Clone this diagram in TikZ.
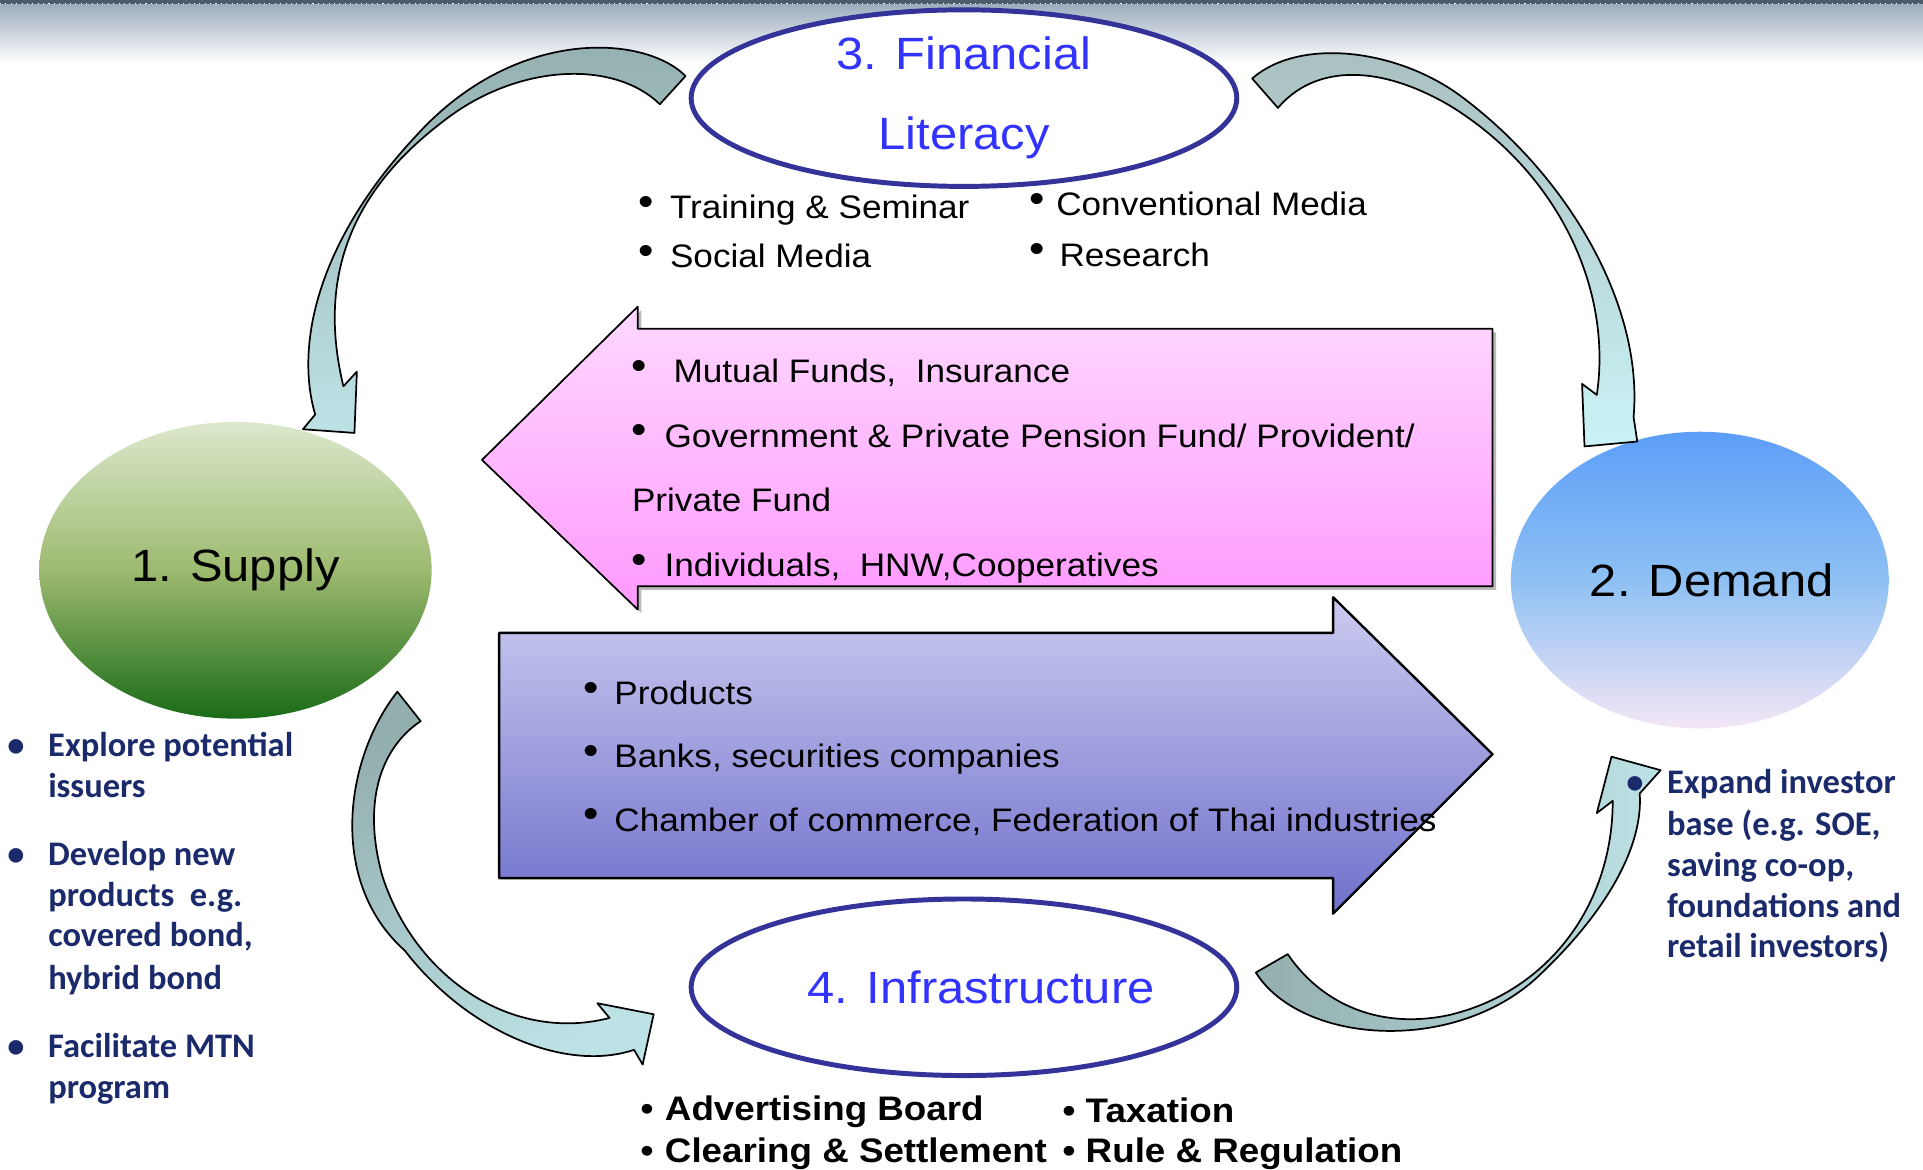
\documentclass[tikz,border=0pt]{standalone}
\usepackage{fontspec}
\usepackage{graphicx}
\setmainfont{Liberation Sans}[FakeStretch=1.08]
\newfontfamily\sidefont{Carlito}
\usetikzlibrary{shapes.geometric}

\definecolor{banddark}{HTML}{4B5B6B}
\definecolor{bandlight}{HTML}{9FAEBF}
\definecolor{titleblue}{HTML}{3333FF}
\definecolor{ringblue}{HTML}{333399}
\definecolor{navy}{HTML}{1B2A6B}
\definecolor{supplytop}{HTML}{DCE8CD}
\definecolor{supplymid}{HTML}{9DBA6F}
\definecolor{supplybot}{HTML}{1A6B17}
\definecolor{demandtop}{HTML}{5C9EF8}
\definecolor{demandmid}{HTML}{8EC0F3}
\definecolor{demandbot}{HTML}{F3E6F5}
\definecolor{pinktop}{HTML}{FFD8FF}
\definecolor{pinkbot}{HTML}{FF99FF}
\definecolor{purptop}{HTML}{CBCBF0}
\definecolor{purpbot}{HTML}{7070CC}
\definecolor{tealdark}{HTML}{93AEAE}
\definecolor{teallight}{HTML}{BDE2E5}
\definecolor{tealpale}{HTML}{CAF3F6}

\newcommand\bul[1]{\makebox[#1][l]{\raisebox{0.1em}{\scalebox{1.25}{•}}}}

\tikzset{
	ring/.style={ellipse, draw=ringblue, line width=2.3pt, fill=white, minimum width=8.9cm, minimum height=2.88cm, inner sep=0pt, text=titleblue, align=center, font=\fontsize{21}{37}\selectfont},
	blob/.style={ellipse, minimum width=6.4cm, minimum height=4.84cm, inner sep=0pt, font=\fontsize{21}{25}\selectfont},
	listtext/.style={anchor=base west, inner sep=0pt, font=\fontsize{15.1}{18}\selectfont},
	boldtext/.style={anchor=base west, inner sep=0pt, font=\bfseries\fontsize{15.8}{18}\selectfont},
	sidetext/.style={anchor=base west, inner sep=0pt, text=navy, font=\sidefont\bfseries\fontsize{16}{19}\selectfont},
	curvy/.style={draw=black, line width=0.8pt, line join=round}
}

\begin{document}
\begin{tikzpicture}[x=0.02cm, y=-0.02cm, line join=round]
	\useasboundingbox (0,0) rectangle (1568,954);
	% top band
	\fill[banddark] (0,0) rectangle (1568,4);
	\shade[top color=bandlight, bottom color=white] (0,4) rectangle (1568,52);
	\draw[white, dotted, line width=0.5pt] (0,3) -- (1568,3);

	% the four parts
	\node (literacy) at (786,80)	[ring]	{3. Financial\\Literacy};
	\node (infra) at (786,805)	[ring]	{\hspace*{16pt}4. Infrastructure};
	\node (supply) at (192,465)	[blob, top color=supplytop, bottom color=supplybot, middle color=supplymid]	{1. Supply};
	\node (demand) at (1386,473)	[blob, minimum width=6.16cm, top color=demandtop, bottom color=demandbot, middle color=demandmid]	{\hspace*{11pt}2. Demand};

	% block arrows
	\fill[gray!55, shift={(3,3)}] (393,375) -- (520,250) -- (520,268) -- (1217,268) -- (1217,478) -- (520,478) -- (520,497) -- cycle;
	\shade[top color=pinktop, bottom color=pinkbot, draw=black, line width=0.8pt] (393,375) -- (520,250) -- (520,268) -- (1217,268) -- (1217,478) -- (520,478) -- (520,497) -- cycle;
	\shade[top color=purptop, bottom color=purpbot, draw=black, line width=1.1pt] (407,516) -- (1087,516) -- (1087,487) -- (1217,615) -- (1087,745) -- (1087,716) -- (407,716) -- cycle;

	% curved arrows
	\shade[curvy, top color=tealdark, bottom color=teallight] (559,62) .. controls (525,28) and (420,22) .. (340,110) .. controls (260,195) and (240,280) .. (257,338) -- (247,350) -- (289,353) -- (291,303) -- (280,315) .. controls (262,240) and (275,165) .. (360,100) .. controls (420,52) and (500,48) .. (538,85) -- cycle;
	\shade[curvy, top color=tealdark!80!white, bottom color=tealpale] (1021,64) .. controls (1060,30) and (1140,40) .. (1192,79) .. controls (1280,145) and (1340,250) .. (1332,340) -- (1335,360) -- (1292,364) -- (1290,313) -- (1302,322) .. controls (1315,235) and (1270,140) .. (1182,86) .. controls (1120,50) and (1070,55) .. (1042,88) -- cycle;
	\shade[curvy, top color=tealdark, bottom color=teallight, shading angle=30] (324,564) .. controls (280,620) and (268,720) .. (330,775) .. controls (380,840) and (460,875) .. (517,856) -- (524,868) -- (533,827) -- (487,818) -- (497,830) .. controls (420,850) and (340,800) .. (312,715) .. controls (295,655) and (310,610) .. (343,588) -- cycle;
	\shade[curvy, left color=tealdark, right color=teallight] (1024,793) .. controls (1060,850) and (1180,860) .. (1250,800) .. controls (1310,745) and (1340,690) .. (1337,647) -- (1354,628) -- (1314,617) -- (1302,663) -- (1315,653) .. controls (1315,740) and (1260,810) .. (1180,828) .. controls (1120,840) and (1075,815) .. (1050,778) -- cycle;

	% literacy items
	\node (training) at (520.5,178)	[listtext]	{\bul{14.5pt}Training \& Seminar};
	\node (social) at (520.5,218)	[listtext]	{\bul{14.5pt}Social Media};
	\node (conventional) at (839,176)	[listtext]	{\bul{12.5pt}Conventional Media};
	\node (research) at (839,217)	[listtext]	{\bul{14pt}Research};

	% investors
	\node (mutual) at (514.5,312)	[listtext]	{\bul{19.6pt}Mutual Funds,~ Insurance};
	\node (pension) at (514.5,364.5)	[listtext]	{\bul{15.4pt}Government \& Private Pension Fund/ Provident/};
	\node (private) at (515,416.8)	[listtext]	{Private Fund};
	\node (individuals) at (514.5,470)	[listtext]	{\bul{15.4pt}Individuals,~ HNW,Cooperatives};

	% issuers side
	\node (products) at (475.5,574.4)	[listtext]	{\bul{14.3pt}Products};
	\node (banks) at (475.5,626)	[listtext]	{\bul{14.3pt}Banks, securities companies};
	\node (chamber) at (475.5,677.6)	[listtext]	{\bul{14.3pt}Chamber of commerce, Federation of Thai industries};

	% infrastructure items
	\node (advertising) at (522,913.6)	[boldtext]	{\makebox[11.3pt][l]{•}Advertising Board};
	\node (clearing) at (522,948)	[boldtext]	{\makebox[11.3pt][l]{•}Clearing \& Settlement};
	\node (taxation) at (866,915)	[boldtext]	{\makebox[10.8pt][l]{•}Taxation};
	\node (rule) at (866,948)	[boldtext]	{\makebox[10.8pt][l]{•}Rule \& Regulation};

	% supply notes
	\node (explore) at (39,617)	[sidetext]	{\llap{•\hspace{11pt}}Explore potential};
	\node (issuers) at (39,650.4)	[sidetext]	{issuers};
	\node (develop) at (39,705.4)	[sidetext]	{\llap{•\hspace{11pt}}Develop new};
	\node (newprod) at (39,739)	[sidetext]	{products~ e.g.};
	\node (covered) at (39,772)	[sidetext]	{covered bond,};
	\node (hybrid) at (39,807)	[sidetext]	{hybrid bond};
	\node (mtn) at (39,862)	[sidetext]	{\llap{•\hspace{11pt}}Facilitate MTN};
	\node (program) at (39,895.5)	[sidetext]	{program};

	% demand notes
	\node (expand) at (1359,647.4)	[sidetext]	{\llap{•\hspace{11pt}}Expand investor};
	\node (base) at (1359,681)	[sidetext]	{base (e.g. SOE,};
	\node (saving) at (1359,714.5)	[sidetext]	{saving co-op,};
	\node (foundations) at (1359,748)	[sidetext]	{foundations and};
	\node (retail) at (1359,781)	[sidetext]	{retail investors)};
\end{tikzpicture}
\end{document}
